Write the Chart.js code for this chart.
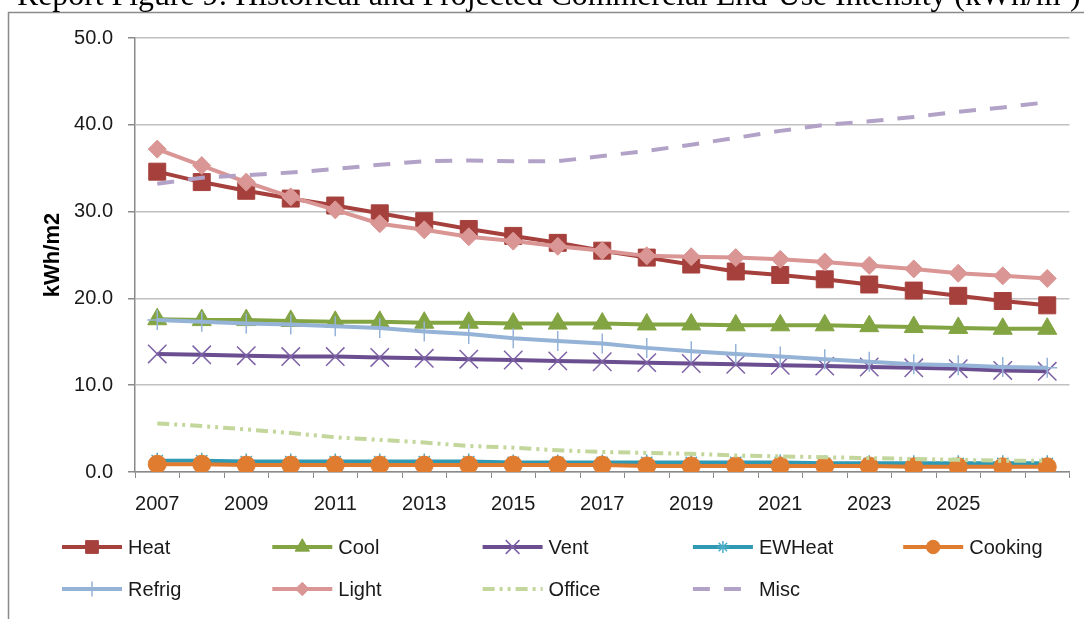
<!DOCTYPE html>
<html>
<head>
<meta charset="utf-8">
<script src="https://cdn.jsdelivr.net/npm/chart.js@4/dist/chart.umd.min.js"></script>
<style>
  html, body { margin: 0; padding: 0; background: #fff; }
  #wrap { position: relative; width: 1084px; height: 619px; overflow: hidden; }
</style>
</head>
<body>
<div id="wrap"><canvas id="euiChart" width="1084" height="619"></canvas></div>
<script>
// ----------------------------------------
// Data
// ----------------------------------------
const years = ['2007', '2008', '2009', '2010', '2011', '2012', '2013', '2014', '2015', '2016', '2017',
  '2018', '2019', '2020', '2021', '2022', '2023', '2024', '2025', '2026', '2027'];

const heat    = [34.6, 33.4, 32.4, 31.5, 30.7, 29.8, 28.9, 28.0, 27.2, 26.4, 25.5, 24.7, 23.9, 23.1, 22.7, 22.2, 21.6, 20.9, 20.3, 19.7, 19.2];
const cool    = [17.6, 17.5, 17.5, 17.4, 17.3, 17.3, 17.2, 17.2, 17.1, 17.1, 17.1, 17.0, 17.0, 16.9, 16.9, 16.9, 16.8, 16.7, 16.6, 16.5, 16.5];
const vent    = [13.6, 13.5, 13.4, 13.3, 13.3, 13.2, 13.1, 13.0, 12.9, 12.8, 12.7, 12.6, 12.5, 12.4, 12.3, 12.2, 12.1, 12.0, 11.9, 11.7, 11.6];
const ewheat  = [1.3, 1.3, 1.2, 1.2, 1.2, 1.2, 1.2, 1.2, 1.1, 1.1, 1.1, 1.1, 1.1, 1.1, 1.1, 1.0, 1.0, 1.0, 1.0, 1.0, 1.0];
const cooking = [0.9, 0.9, 0.8, 0.8, 0.8, 0.8, 0.8, 0.8, 0.8, 0.8, 0.8, 0.7, 0.7, 0.7, 0.7, 0.7, 0.7, 0.6, 0.6, 0.6, 0.6];
const refrig  = [17.5, 17.3, 17.1, 17.0, 16.8, 16.6, 16.2, 15.9, 15.4, 15.1, 14.8, 14.3, 13.9, 13.6, 13.3, 13.0, 12.7, 12.4, 12.3, 12.1, 12.0];
const light   = [37.2, 35.3, 33.4, 31.7, 30.2, 28.6, 27.9, 27.1, 26.6, 26.0, 25.5, 24.9, 24.8, 24.7, 24.5, 24.2, 23.8, 23.4, 22.9, 22.6, 22.3];
const office  = [5.6, 5.3, 4.9, 4.5, 4.0, 3.7, 3.4, 3.0, 2.8, 2.5, 2.3, 2.2, 2.1, 1.9, 1.8, 1.7, 1.6, 1.5, 1.4, 1.3, 1.3];
const misc    = [33.2, 33.9, 34.2, 34.5, 34.9, 35.4, 35.8, 35.9, 35.8, 35.8, 36.4, 37.0, 37.7, 38.5, 39.3, 40.0, 40.4, 40.9, 41.5, 42.0, 42.6];

const yTicks = [0, 10, 20, 30, 40, 50];

const titleText = 'Report Figure 9: Historical and Projected Commercial End-Use Intensity (kWh/m\u00B2)';
const FONT = "'Liberation Sans', Arial, sans-serif";

// ----------------------------------------
// Series styling
// ----------------------------------------
function series(label, data, color, extra) {
  return Object.assign({
    label: label,
    data: data,
    borderColor: color,
    backgroundColor: color,
    pointBackgroundColor: color,
    pointBorderColor: color,
    borderWidth: 4,
    pointBorderWidth: 1,
    tension: 0,
    fill: false,
  }, extra);
}

const datasets = [
  series('Heat', heat, '#a5403d', { pointStyle: 'rect', pointRadius: 12 }),
  series('Cool', cool, '#83a443', { pointStyle: 'triangle', pointRadius: 11 }),
  series('Vent', vent, '#6b4e8f', { pointStyle: 'crossRot', pointRadius: 13, pointBorderColor: '#7d62a6', pointBorderWidth: 1.5 }),
  series('EWHeat', ewheat, '#2f98b3', { pointStyle: 'star', pointRadius: 8, pointBorderColor: '#4bacc6', pointBorderWidth: 1.5 }),
  series('Cooking', cooking, '#e07c30', { pointStyle: 'circle', pointRadius: 9 }),
  series('Refrig', refrig, '#95b3d7', { pointStyle: 'cross', pointRadius: 10, pointBorderWidth: 1.5 }),
  series('Light', light, '#d99694', { pointStyle: 'rectRot', pointRadius: 9 }),
  series('Office', office, '#c3d69b', { pointRadius: 0, borderDash: [12, 5, 3, 5, 3, 5] }),
  series('Misc', misc, '#b3a2c7', { pointRadius: 0, borderDash: [17, 14] }),
];
// later series sit on top, like the original spreadsheet chart
datasets.forEach((ds, i) => { ds.order = datasets.length - i; });

// ----------------------------------------
// Frame, title and two-row legend
// ----------------------------------------
const framePlugin = {
  id: 'frame',
  beforeDraw(chart) {
    const ctx = chart.ctx;
    ctx.save();
    ctx.fillStyle = '#fff';
    ctx.fillRect(0, 0, chart.width, chart.height);
    ctx.strokeStyle = '#8a8a8a';
    ctx.lineWidth = 1.5;
    ctx.beginPath();
    ctx.moveTo(chart.width, 12.5);
    ctx.lineTo(8.5, 12.5);
    ctx.lineTo(8.5, chart.height);
    ctx.stroke();

    // title, cropped by the top of the page
    let size = 28;
    ctx.font = size + "px 'Liberation Serif', 'Times New Roman', serif";
    size = size * 1064 / ctx.measureText(titleText).width;
    ctx.font = size + "px 'Liberation Serif', 'Times New Roman', serif";
    ctx.fillStyle = '#000';
    ctx.textBaseline = 'alphabetic';
    ctx.fillText(titleText, 17, 5);
    ctx.restore();
  }
};

const legendPlugin = {
  id: 'gridLegend',
  afterDraw(chart) {
    const ctx = chart.ctx;
    ctx.save();
    chart.data.datasets.forEach((ds, i) => {
      const col = i % 5;
      const row = Math.floor(i / 5);
      const x = 62 + col * 210.3;
      const y = row === 0 ? 547 : 589;

      ctx.strokeStyle = ds.borderColor;
      ctx.lineWidth = ds.borderWidth;
      ctx.setLineDash(ds.borderDash || []);
      ctx.lineCap = 'butt';
      ctx.beginPath();
      ctx.moveTo(x, y);
      ctx.lineTo(x + 60, y);
      ctx.stroke();
      ctx.setLineDash([]);

      if (ds.pointRadius > 0) {
        ctx.fillStyle = ds.pointBackgroundColor;
        ctx.strokeStyle = ds.pointBorderColor;
        ctx.lineWidth = ds.pointBorderWidth;
        Chart.helpers.drawPoint(ctx, {
          pointStyle: ds.pointStyle,
          radius: ds.pointRadius * 0.75,
          rotation: 0,
          borderWidth: ds.pointBorderWidth
        }, x + 30, y);
      }

      ctx.fillStyle = '#1a1a1a';
      ctx.font = '20px ' + FONT;
      ctx.textBaseline = 'middle';
      ctx.textAlign = 'left';
      ctx.fillText(ds.label, x + 66, y + 1);
    });
    ctx.restore();
  }
};

// ----------------------------------------
// Chart
// ----------------------------------------
new Chart(document.getElementById('euiChart'), {
  type: 'line',
  data: { labels: years, datasets: datasets },
  plugins: [framePlugin, legendPlugin],
  options: {
    responsive: false,
    animation: false,
    layout: { padding: { top: 38, right: 11, bottom: 107, left: 0 } },
    plugins: {
      legend: { display: false },
      tooltip: { enabled: false },
    },
    scales: {
      x: {
        offset: true,
        afterFit(scale) { scale.height = 40; },
        grid: {
          offset: true,
          drawOnChartArea: false,
          drawTicks: true,
          tickLength: 6,
          tickColor: '#8a8a8a',
        },
        border: { color: '#8a8a8a', width: 1.5 },
        ticks: {
          autoSkip: false,
          maxRotation: 0,
          padding: 14,
          color: '#1a1a1a',
          font: { family: FONT, size: 20 },
          callback: function(value, index) {
            return (index % 2 === 0 && index < years.length - 1) ? years[index] : '';
          }
        }
      },
      y: {
        min: 0,
        max: 50,
        afterFit(scale) { scale.width = 135; },
        afterBuildTicks(scale) { scale.ticks = yTicks.map(v => ({ value: v })); },
        grid: {
          color: '#c0c0c0',
          lineWidth: 1.5,
          tickLength: 7,
          tickColor: '#8a8a8a',
        },
        border: { color: '#8a8a8a', width: 1.5 },
        ticks: {
          padding: 15,
          color: '#1a1a1a',
          font: { family: FONT, size: 20 },
          callback: function(value) { return value.toFixed(1); }
        },
        title: {
          display: true,
          text: 'kWh/m2',
          color: '#000',
          font: { family: FONT, size: 22, weight: 'bold' },
          padding: { top: 40, bottom: 0 },
        }
      }
    }
  }
});
</script>
</body>
</html>
